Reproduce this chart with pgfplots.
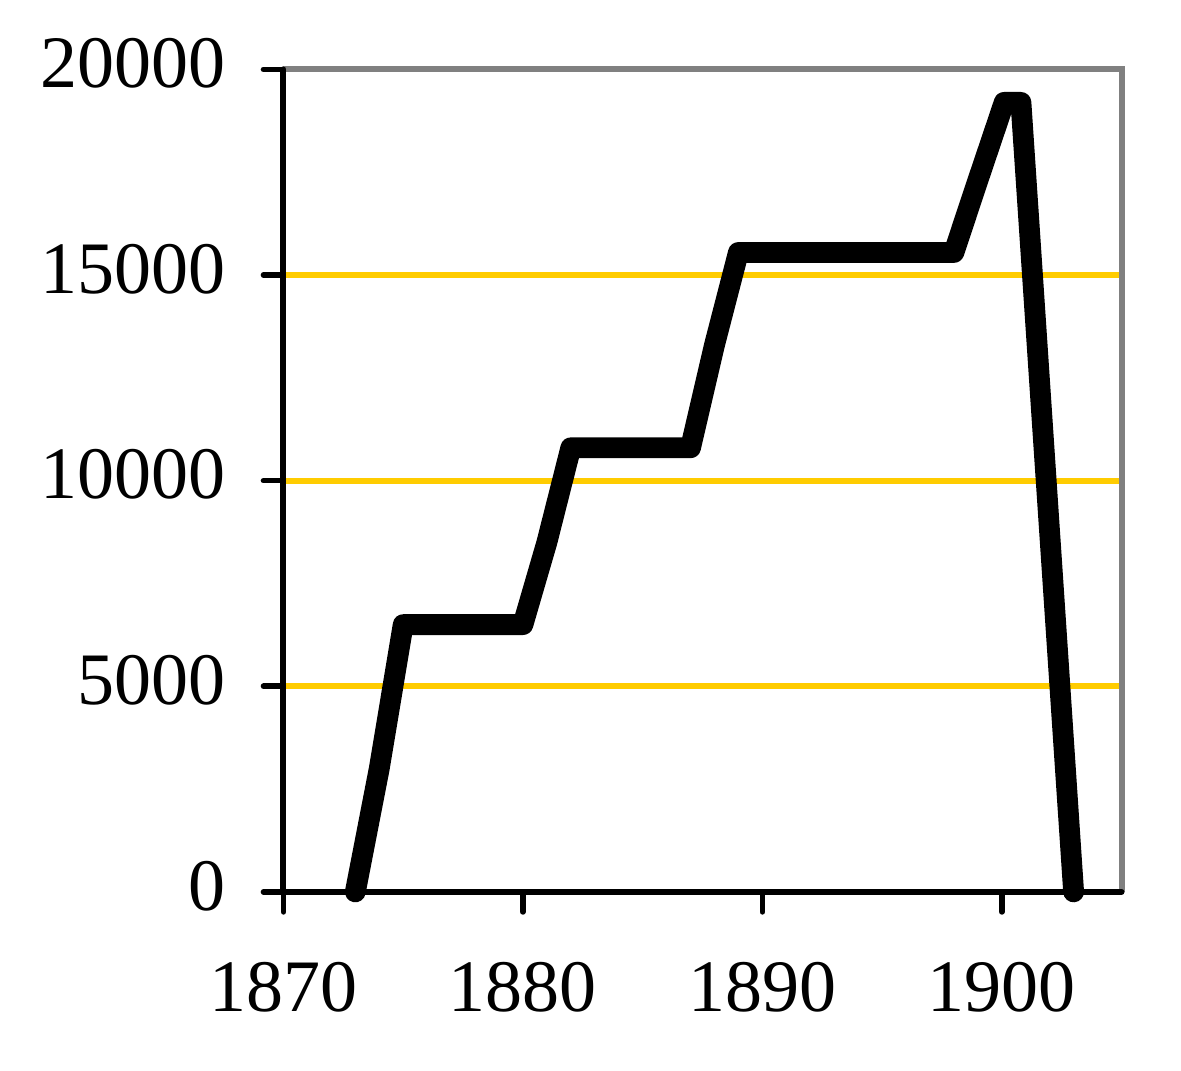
\documentclass[border=0pt]{standalone}
\usepackage{pgfplots}
\pgfplotsset{compat=1.18}
\usepackage{fontspec}
\setmainfont{Liberation Serif}
\definecolor{gold}{HTML}{FFCC00}
\definecolor{bordergray}{HTML}{808080}
\begin{document}
\begin{tikzpicture}
\begin{axis}[
  scale only axis, width=209.5pt, height=205.6pt,
  xmin=1870, xmax=1905, ymin=0, ymax=20000,
  xtick={1870,1880,1890,1900}, ytick={0,5000,10000,15000,20000},
  scaled ticks=false,
  axis line style={draw=none},
  tick align=outside, xtick pos=bottom, ytick pos=left,
  major tick length=5pt,
  every tick/.style={black, line width=1.4pt, line cap=round},
  /pgf/number format/assume math mode=true,
  /pgf/number format/1000 sep={},
  tick label style={font=\fontsize{18.5}{22}\selectfont},
  xticklabel style={anchor=north, yshift=-9pt},
  yticklabel style={anchor=east, xshift=-6pt, yshift=1.5pt},
  clip=false,
]
\path (rel axis cs:-0.3383,-0.2176) rectangle (rel axis cs:1.0710,1.0845);
% gridlines
\draw[gold, line width=1.5pt] (axis cs:1870,5000) -- (axis cs:1905,5000);
\draw[gold, line width=1.5pt] (axis cs:1870,10000) -- (axis cs:1905,10000);
\draw[gold, line width=1.5pt] (axis cs:1870,15000) -- (axis cs:1905,15000);
% border
\draw[bordergray, line width=1.5pt] (axis cs:1870,20000) -- (axis cs:1905,20000) -- (axis cs:1905,0);
\draw[black, line width=1.5pt, line cap=round] (axis cs:1870,20000) -- (axis cs:1870,0) -- (axis cs:1905,0);
\addplot[black, line width=5.2pt, line join=round, line cap=round, mark=none] coordinates {
  (1873,0) (1874,3000) (1875,6500) (1880,6500) (1881,8500) (1882,10800)
  (1887,10800) (1888,13300) (1889,15550) (1898,15550) (1899,17300)
  (1900.1,19200) (1900.8,19200) (1903,0)
};
\end{axis}
\end{tikzpicture}
\end{document}
